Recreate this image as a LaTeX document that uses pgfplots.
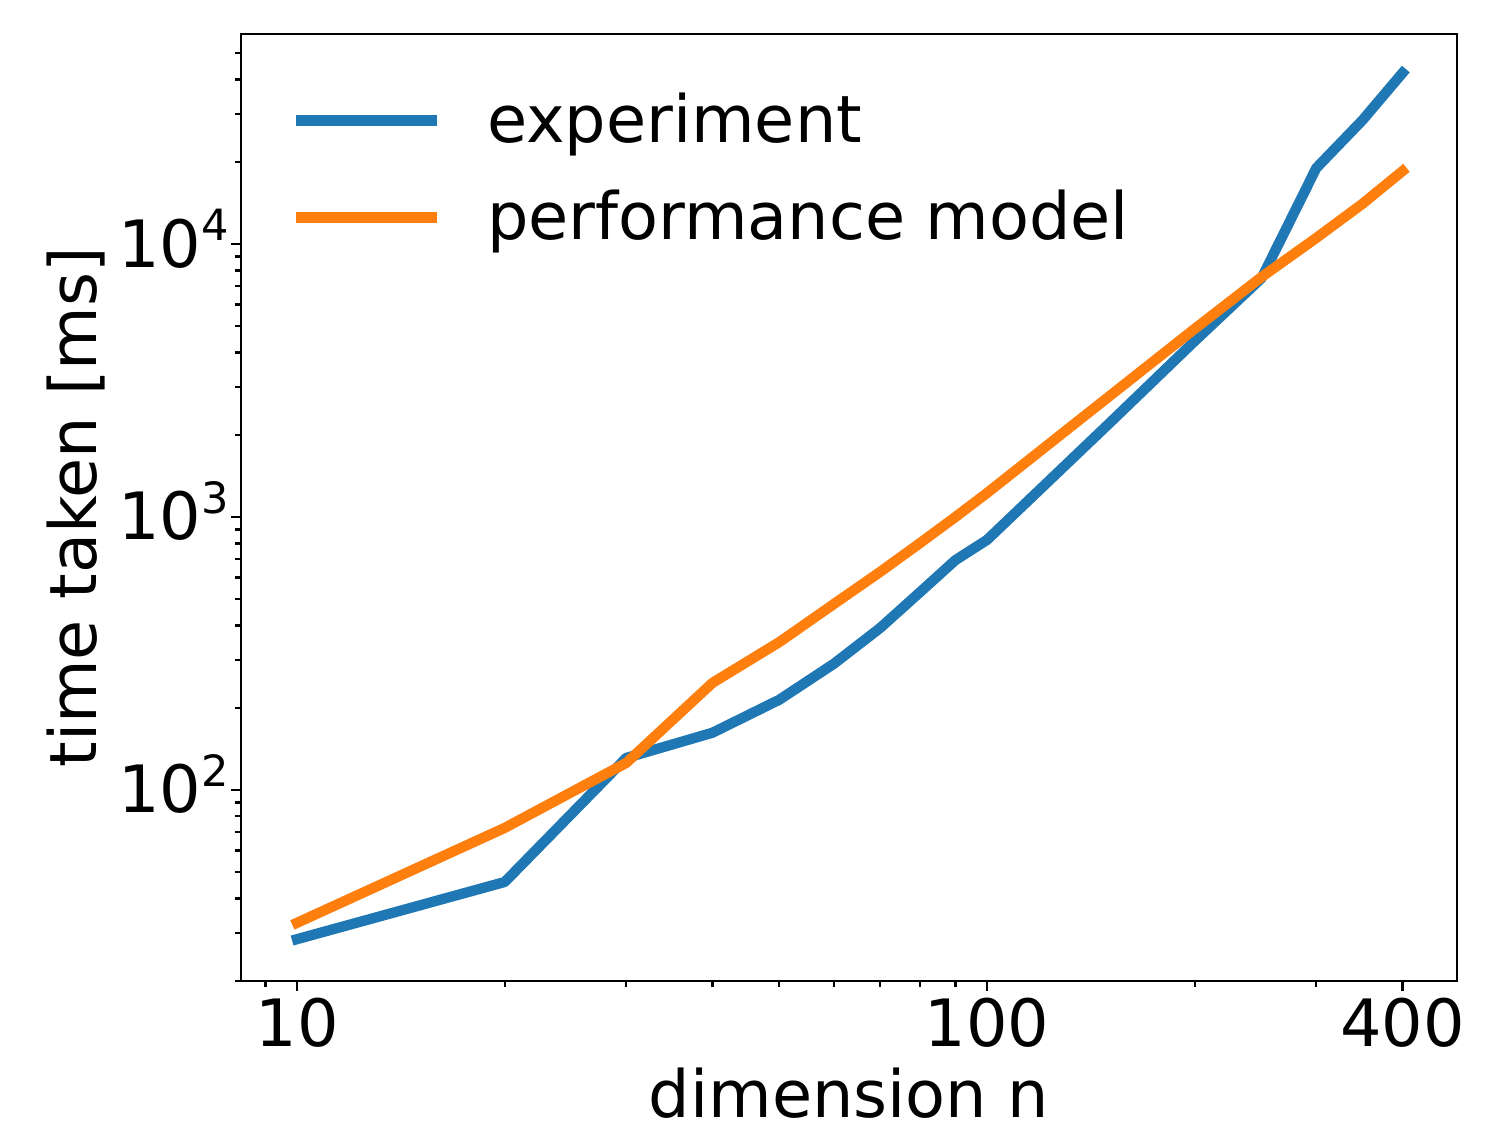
\documentclass[border=0pt]{standalone}
\usepackage{fontspec}
\setmainfont{DejaVu Sans}
\usepackage{pgfplots}
\pgfplotsset{compat=1.18}
\definecolor{mblue}{HTML}{1F77B4}
\definecolor{morange}{HTML}{FF7F0E}
\newcommand{\bigf}{\fontsize{23.5}{28}\selectfont}
\newcommand{\sups}[1]{\raisebox{9.4pt}{\fontsize{15.5}{20}\selectfont #1}}
\begin{document}
\begin{tikzpicture}
\useasboundingbox (-86.76pt,-51.48pt) rectangle (449.28pt,353.16pt);
\begin{axis}[
  xmode=log, ymode=log,
  scale only axis, width=437.76pt, height=340.92pt,
  xmin=8.295, xmax=479.8, ymin=19.96, ymax=58770,
  xtick={10,100,400}, xticklabels={10,100,400},
  minor xtick={9,20,30,40,50,60,70,80,90,200,300},
  ytick={100,1000,10000},
  yticklabels={10\sups{2},10\sups{3},10\sups{4}},
  minor ytick={20,30,40,50,60,70,80,90,200,300,400,500,600,700,800,900,2000,3000,4000,5000,6000,7000,8000,9000,20000,30000,40000,50000},
  tick align=outside, tick pos=left,
  major tick length=3.5pt, minor tick length=2pt,
  every tick/.style={black, line width=0.8pt},
  axis line style={line width=0.8pt},
  xticklabel style={font=\bigf, anchor=base, inner sep=0pt, yshift=-20pt},
  yticklabel style={font=\bigf, anchor=base east, inner sep=0pt, xshift=-0.8pt, yshift=-8.3pt},
  every axis x label/.style={at={(axis description cs:0.5,0)}, anchor=base, yshift=-49.3pt, font=\bigf, text depth=0pt},
  every axis y label/.style={at={(axis description cs:0,0.5)}, rotate=90, anchor=base, yshift=52.2pt, font=\bigf},
  xlabel={dimension n},
  ylabel={time taken [ms]},
  every axis plot/.append style={line width=3.7pt, line cap=rect, line join=round},
  legend image code/.code={\draw[#1, line width=3.8pt, line cap=rect] (1.9pt,2.1pt) -- (48.9pt,2.1pt); \path[draw=none] (0pt,2.1pt) -- (68.8pt,2.1pt);},
  legend cell align=left,
  legend style={draw=none, fill=none, font=\bigf, at={(axis description cs:0.0452,1)}, anchor=north west, yshift=-21.2pt, inner sep=0pt, outer sep=0pt, row sep=10.9pt, nodes={inner sep=0pt, text height=18pt, text depth=6pt}},
]
\addplot[mblue] coordinates {
(10,28.4) (20,46) (30,131) (40,162) (50,214) (60,290) (70,392) (80,531) (90,695) (100,824)
(150,2190) (200,4410) (250,7500) (300,18970) (350,28400) (400,42300)
};
\addlegendentry{experiment}
\addplot[morange] coordinates {
(10,32.6) (20,72.6) (30,125.6) (40,246.7) (50,348) (60,480) (70,629) (80,803) (90,1000) (100,1224)
(150,2754) (200,4890) (250,7570) (300,10520) (350,14030) (400,18490)
};
\addlegendentry{performance model}
\end{axis}
\end{tikzpicture}
\end{document}
